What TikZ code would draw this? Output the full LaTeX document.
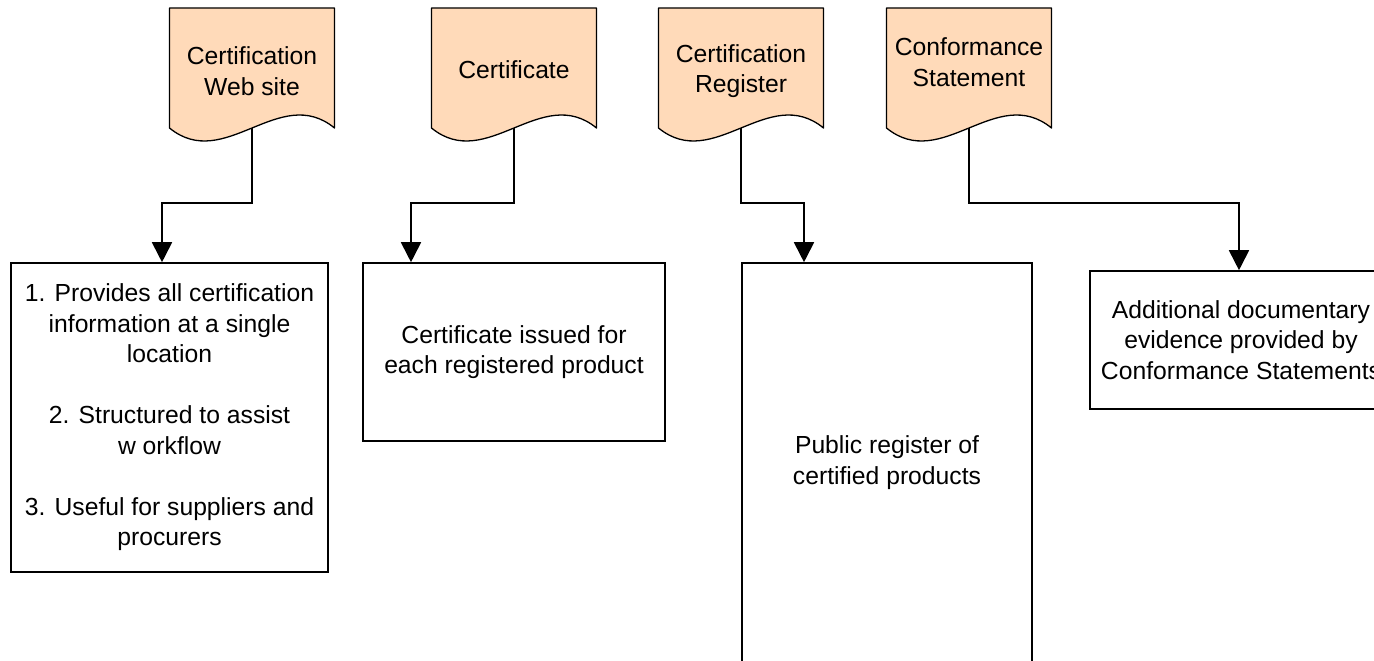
\documentclass[tikz,border=0pt]{standalone}
\usepackage{fontspec}
\setmainfont{Liberation Sans}
\usetikzlibrary{arrows.meta}
\definecolor{peach}{HTML}{FFDAB9}
\newcommand\docshape[2]{%
  \begin{scope}[shift={(#2,0)}]
    \draw[docfill] (-82.5,8) -- (82.5,8) -- (82.5,128)
      .. controls (27.5,83) and (-27.5,173) .. (-82.5,128) -- cycle;
    \coordinate (#1-b) at (0,128);
  \end{scope}}
\begin{document}
\begin{tikzpicture}[x=1pt,y=-1pt,
  docfill/.style={fill=peach,draw=black,line width=1.3pt,line join=round},
  doctext/.style={align=center,inner sep=0pt,font=\fontsize{24.7}{30.5}\selectfont},
  infobox/.style={draw=black,line width=1.6pt,align=center,inner sep=0pt,font=\fontsize{24.7}{30.5}\selectfont},
  conn/.style={line width=1.8pt,-{Triangle[width=20pt,length=20pt]}}]
\useasboundingbox (0,0) rectangle (1374,661);

% document shapes
\docshape{d1}{252}
\docshape{d2}{514}
\docshape{d3}{741}
\docshape{d4}{969}
\node[doctext] (t1) at (252,71) {Certification\\Web site};
\node[doctext] (t2) at (514,70) {Certificate};
\node[doctext] (t3) at (741,71) {Certification\\Register};
\node[doctext] (t4) at (969,62) {Conformance\\Statement};

% boxes
\node[infobox,minimum width=317pt,minimum height=309pt] (b1) at (169.5,417.5)
  {1. Provides all certification\\information at a single\\location\\[30.5pt]
   2. Structured to assist\\w orkflow\\[30.5pt]
   3. Useful for suppliers and\\procurers};
\node[infobox,minimum width=302pt,minimum height=178pt] (b2) at (514,352)
  {Certificate issued for\\each registered product};
\node[infobox,minimum width=290pt,minimum height=399pt] (b3) at (887,462.5)
  {Public register of\\certified products};
\node[infobox,minimum width=302pt,minimum height=138pt] (b4) at (1241,340)
  {Additional documentary\\evidence provided by\\Conformance Statements};

% junctions
\coordinate (j1) at (162,203);
\coordinate (j2) at (411,203);
\coordinate (j3) at (804,203);
\coordinate (j4) at (1239,203);

% connectors
\draw[conn] (d1-b) |- (j1) -- (j1 |- b1.north);
\draw[conn] (d2-b) |- (j2) -- (j2 |- b2.north);
\draw[conn] (d3-b) |- (j3) -- (j3 |- b3.north);
\draw[conn] (d4-b) |- (j4) -- (j4 |- b4.north);
\end{tikzpicture}
\end{document}
